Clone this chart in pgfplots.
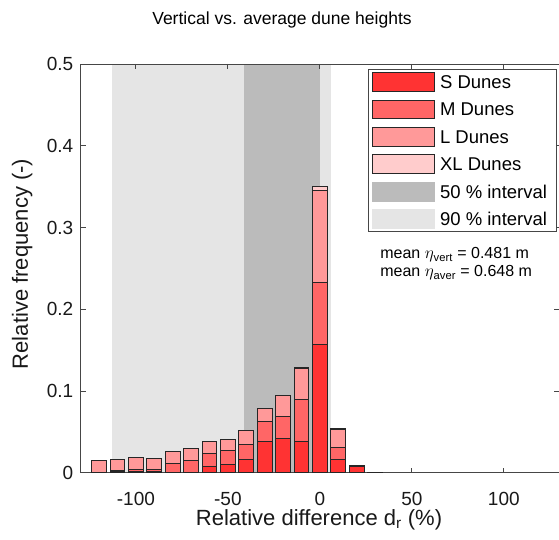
\documentclass[border=0pt]{standalone}
\usepackage{pgfplots}
\usepackage{pgfplotstable}
\pgfplotsset{compat=1.18}
\usepackage{fontspec}
\setmainfont{Liberation Sans}

\definecolor{cS}{RGB}{255,51,51}
\definecolor{cM}{RGB}{255,102,102}
\definecolor{cL}{RGB}{255,153,153}
\definecolor{cXL}{RGB}{255,204,204}
\definecolor{g50}{RGB}{187,187,187}
\definecolor{g90}{RGB}{229,229,229}
\definecolor{axc}{RGB}{70,70,70}

\pgfplotstableread{
x      S       M       L       XL
-120   0       0       0.0150  0
-110   0.0020  0.0010  0.0137  0
-100   0.0020  0.0025  0.0143  0
-90    0.0010  0.0035  0.0126  0
-80    0       0.0114  0.0146  0
-70    0       0.0151  0.0147  0
-60    0.0073  0.0167  0.0140  0
-50    0.0102  0.0171  0.0137  0
-40    0.0167  0.0180  0.0173  0
-30    0.0387  0.0237  0.0156  0
-20    0.0420  0.0273  0.0257  0
-10    0.0387  0.0514  0.0369  0.0015
0      0.1574  0.0755  0.1129  0.0049
10     0.0163  0.0151  0.0220  0.0003
20     0.0073  0.0010  0.0010  0
30     0       0       0.0008  0
}\bars

\pgfplotstableread{
x       y
-113.1  0.5
6.3     0.5
}\ninety
\pgfplotstableread{
x       y
-41.1   0.5
0       0.5
}\fifty

\begin{document}
\begin{tikzpicture}
\path[use as bounding box] (-80.7bp,-67.3bp) rectangle (478.3bp,472.7bp);
% background intervals
\begin{axis}[
  at={(0,0)}, anchor=south west,
  scale only axis, width=478.3bp, height=408.7bp,
  xmin=-130, xmax=130, ymin=0, ymax=0.5,
  hide axis,
]
\addplot[fill=g90, draw=none] table[x=x,y=y] {\ninety} \closedcycle;
\addplot[fill=g50, draw=none] table[x=x,y=y] {\fifty} \closedcycle;
\end{axis}
% bars
\begin{axis}[
  at={(0,0)}, anchor=south west,
  scale only axis, width=478.3bp, height=408.7bp,
  xmin=-130, xmax=130, ymin=0, ymax=0.5,
  ybar stacked, bar width=8,
  axis line style={draw=axc, line width=0.8bp},
  tick style={draw=axc, line width=0.8bp},
  major tick length=5bp,
  tick align=inside,
  xtick={-100,-50,0,50,100},
  ytick={0,0.1,0.2,0.3,0.4,0.5},
  /pgf/number format/assume math mode=true,
  yticklabel style={/pgf/number format/fixed, /pgf/number format/precision=1},
  ticklabel style={font=\fontsize{19bp}{22bp}\selectfont, text=black!90},
  xticklabel style={yshift=-16bp},
  yticklabel style={xshift=-4bp},
  xlabel={Relative difference d\textsubscript{r} (\%)},
  ylabel={Relative frequency (-)},
  label style={font=\fontsize{22bp}{26bp}\selectfont, text=black!90},
  xlabel style={at={(axis description cs:0.4983,0)}, anchor=base, yshift=-52.3bp},
  ylabel style={at={(axis description cs:-0.1102,0.5107)}, anchor=base, rotate=0},
  mylegend/.style={legend image code/.code={\draw[##1] (0bp,-9.4bp) rectangle (62bp,9.4bp);}},
  legend cell align=left,
  legend style={at={(rel axis cs:0.600,0.988)}, anchor=north west,
    draw=axc, line width=0.8bp, fill=white,
    font=\fontsize{18.5bp}{21bp}\selectfont,
    inner xsep=4bp, inner ysep=3bp, row sep=7.6bp,
    nodes={inner sep=1.5bp, text depth=0pt},
    /tikz/every odd column/.append style={column sep=3.5bp}},
]
\addplot[fill=cS, draw=black!85, line width=1bp, mylegend] table[x=x,y=S] {\bars};
\addlegendentry{S Dunes}
\addplot[fill=cM, draw=black!85, line width=1bp, mylegend] table[x=x,y=M] {\bars};
\addlegendentry{M Dunes}
\addplot[fill=cL, draw=black!85, line width=1bp, mylegend] table[x=x,y=L] {\bars};
\addlegendentry{L Dunes}
\addplot[fill=cXL, draw=black!85, line width=1bp, mylegend] table[x=x,y=XL] {\bars};
\addlegendentry{XL Dunes}
\addlegendimage{mylegend, fill=g50, draw=g50}
\addlegendentry{50 \% interval}
\addlegendimage{mylegend, fill=g90, draw=g90}
\addlegendentry{90 \% interval\hspace*{4bp}}
\node[anchor=base west, font=\fontsize{16bp}{19bp}\selectfont, inner sep=0pt]
  at (rel axis cs:0.626,0.523) {mean $\eta$\textsubscript{vert} = 0.481 m};
\node[anchor=base west, font=\fontsize{16bp}{19bp}\selectfont, inner sep=0pt]
  at (rel axis cs:0.626,0.480) {mean $\eta$\textsubscript{aver} = 0.648 m};
\end{axis}
\node[anchor=base, font=\fontsize{17.5bp}{21bp}\selectfont] at (201.3bp,447.7bp) {Vertical vs. average dune heights};
\end{tikzpicture}
\end{document}
